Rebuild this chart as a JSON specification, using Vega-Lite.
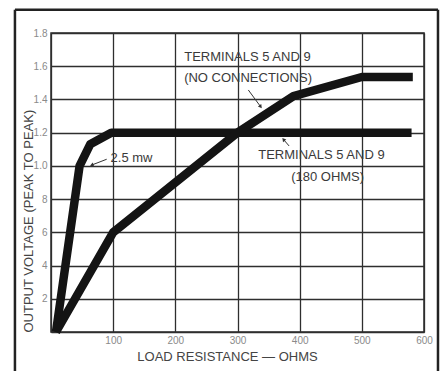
{
  "$schema": "https://vega.github.io/schema/vega-lite/v6.json",
  "width": 373,
  "height": 299,
  "autosize": {"type": "none"},
  "padding": {"left": 51, "top": 33, "right": 20, "bottom": 39},
  "background": "white",
  "config": {
    "view": {"stroke": "#2a2a2a", "strokeWidth": 1.5},
    "font": "Liberation Sans",
    "axis": {"labelOverlap": false, "labelBound": false}
  },
  "resolve": {"axis": {"x": "independent", "y": "independent"}},
  "datasets": {
    "curves": [
      {"series": "180 ohms", "x": 8, "y": 0},
      {"series": "180 ohms", "x": 46, "y": 1.0},
      {"series": "180 ohms", "x": 63, "y": 1.13},
      {"series": "180 ohms", "x": 97, "y": 1.2},
      {"series": "180 ohms", "x": 580, "y": 1.2},
      {"series": "no connections", "x": 8, "y": 0},
      {"series": "no connections", "x": 100, "y": 0.6},
      {"series": "no connections", "x": 300, "y": 1.2},
      {"series": "no connections", "x": 390, "y": 1.42},
      {"series": "no connections", "x": 500, "y": 1.535},
      {"series": "no connections", "x": 582, "y": 1.535}
    ],
    "notes": [
      {"text": "TERMINALS 5 AND 9", "x": 316, "y": 1.654},
      {"text": "(NO CONNECTIONS)", "x": 317, "y": 1.527},
      {"text": "TERMINALS 5 AND 9", "x": 435, "y": 1.066},
      {"text": "(180 OHMS)", "x": 445, "y": 0.931},
      {"text": "2.5 mw", "x": 129.5, "y": 1.046}
    ],
    "arrows": [
      {"id": "mw", "x": 89.6, "y": 1.04, "x2": 65.5, "y2": 1.005},
      {"id": "nc", "x": 317.4, "y": 1.457, "x2": 337.3, "y2": 1.356},
      {"id": "ohms", "x": 383, "y": 1.12, "x2": 374, "y2": 1.159}
    ]
  },
  "layer": [
    {
      "data": {"name": "curves"},
      "mark": {"type": "line", "color": "#141414", "strokeWidth": 8.5, "strokeJoin": "round", "strokeCap": "butt"},
      "encoding": {
        "x": {
          "field": "x",
          "type": "quantitative",
          "scale": {"domain": [0, 600], "nice": false, "zero": false},
          "axis": {
            "values": [0, 100, 200, 300, 400, 500, 600],
            "labelExpr": "datum.value == 0 ? '' : datum.label",
            "grid": true,
            "gridColor": "#2e2e2e",
            "gridWidth": 1.3,
            "ticks": false,
            "domain": false,
            "labelColor": "#8a8a8a",
            "labelFontSize": 10,
            "labelPadding": 3,
            "labelFlush": false,
            "labelOverlap": false,
            "labelBound": false,
            "title": "LOAD RESISTANCE — OHMS",
            "titleFontSize": 13,
            "titleFontWeight": "normal",
            "titleColor": "#444444",
            "titleX": 176,
            "titleY": 28,
            "titleAlign": "center",
            "titleBaseline": "alphabetic"
          }
        },
        "y": {
          "field": "y",
          "type": "quantitative",
          "scale": {"domain": [0, 1.8], "nice": false, "zero": false},
          "axis": {
            "values": [0, 0.2, 0.4, 0.6, 0.8, 1.0, 1.2, 1.4, 1.6, 1.8],
            "labelExpr": "datum.value == 0 ? '' : (datum.value >= 0.99 ? format(datum.value, '.1f') : format(datum.value * 10, '.0f'))",
            "grid": true,
            "gridColor": "#2e2e2e",
            "gridWidth": 1.3,
            "ticks": false,
            "domain": false,
            "labelColor": "#8a8a8a",
            "labelFontSize": 10,
            "labelPadding": 4,
            "labelFlush": false,
            "labelOverlap": false,
            "labelBound": false,
            "title": "OUTPUT VOLTAGE (PEAK TO PEAK)",
            "titleFontSize": 13,
            "titleFontWeight": "normal",
            "titleColor": "#444444",
            "titleAngle": -90,
            "titleX": -19,
            "titleY": 299,
            "titleAlign": "left",
            "titleBaseline": "alphabetic"
          }
        },
        "detail": {"field": "series"}
      }
    },
    {
      "data": {"values": [{"side": "left"}]},
      "mark": {"type": "rule", "color": "#222222", "strokeWidth": 2.5, "clip": false},
      "encoding": {
        "x": {"datum": -58, "type": "quantitative", "axis": null},
        "y": {"datum": 1.94, "type": "quantitative", "axis": null},
        "y2": {"datum": -0.8}
      }
    },
    {
      "data": {"values": [{"side": "top"}]},
      "mark": {"type": "rule", "color": "#222222", "strokeWidth": 2.5, "clip": false},
      "encoding": {
        "x": {"datum": -58, "type": "quantitative", "axis": null},
        "x2": {"datum": 622.5},
        "y": {"datum": 1.94, "type": "quantitative", "axis": null}
      }
    },
    {
      "data": {"values": [{"side": "right"}]},
      "mark": {"type": "rule", "color": "#222222", "strokeWidth": 2.5, "clip": false},
      "encoding": {
        "x": {"datum": 622.5, "type": "quantitative", "axis": null},
        "y": {"datum": 1.94, "type": "quantitative", "axis": null},
        "y2": {"datum": -0.8}
      }
    },
    {
      "data": {"name": "arrows"},
      "mark": {"type": "rule", "color": "#333333", "strokeWidth": 1},
      "encoding": {
        "x": {"field": "x", "type": "quantitative", "axis": null},
        "y": {"field": "y", "type": "quantitative", "axis": null},
        "x2": {"field": "x2"},
        "y2": {"field": "y2"}
      }
    },
    {
      "data": {"name": "arrows"},
      "transform": [{"filter": "datum.id == 'mw'"}],
      "mark": {"type": "point", "shape": "triangle-up", "filled": true, "color": "#333333", "size": 18, "angle": 249, "opacity": 1},
      "encoding": {
        "x": {"field": "x2", "type": "quantitative", "axis": null},
        "y": {"field": "y2", "type": "quantitative", "axis": null}
      }
    },
    {
      "data": {"name": "arrows"},
      "transform": [{"filter": "datum.id == 'nc'"}],
      "mark": {"type": "point", "shape": "triangle-up", "filled": true, "color": "#333333", "size": 18, "angle": 143, "opacity": 1},
      "encoding": {
        "x": {"field": "x2", "type": "quantitative", "axis": null},
        "y": {"field": "y2", "type": "quantitative", "axis": null}
      }
    },
    {
      "data": {"name": "arrows"},
      "transform": [{"filter": "datum.id == 'ohms'"}],
      "mark": {"type": "point", "shape": "triangle-up", "filled": true, "color": "#333333", "size": 18, "angle": 320, "opacity": 1},
      "encoding": {
        "x": {"field": "x2", "type": "quantitative", "axis": null},
        "y": {"field": "y2", "type": "quantitative", "axis": null}
      }
    },
    {
      "data": {"name": "notes"},
      "mark": {"type": "text", "fontSize": 13, "color": "#3a3a3a", "align": "center", "baseline": "middle"},
      "encoding": {
        "x": {"field": "x", "type": "quantitative", "axis": null},
        "y": {"field": "y", "type": "quantitative", "axis": null},
        "text": {"field": "text"}
      }
    }
  ]
}
